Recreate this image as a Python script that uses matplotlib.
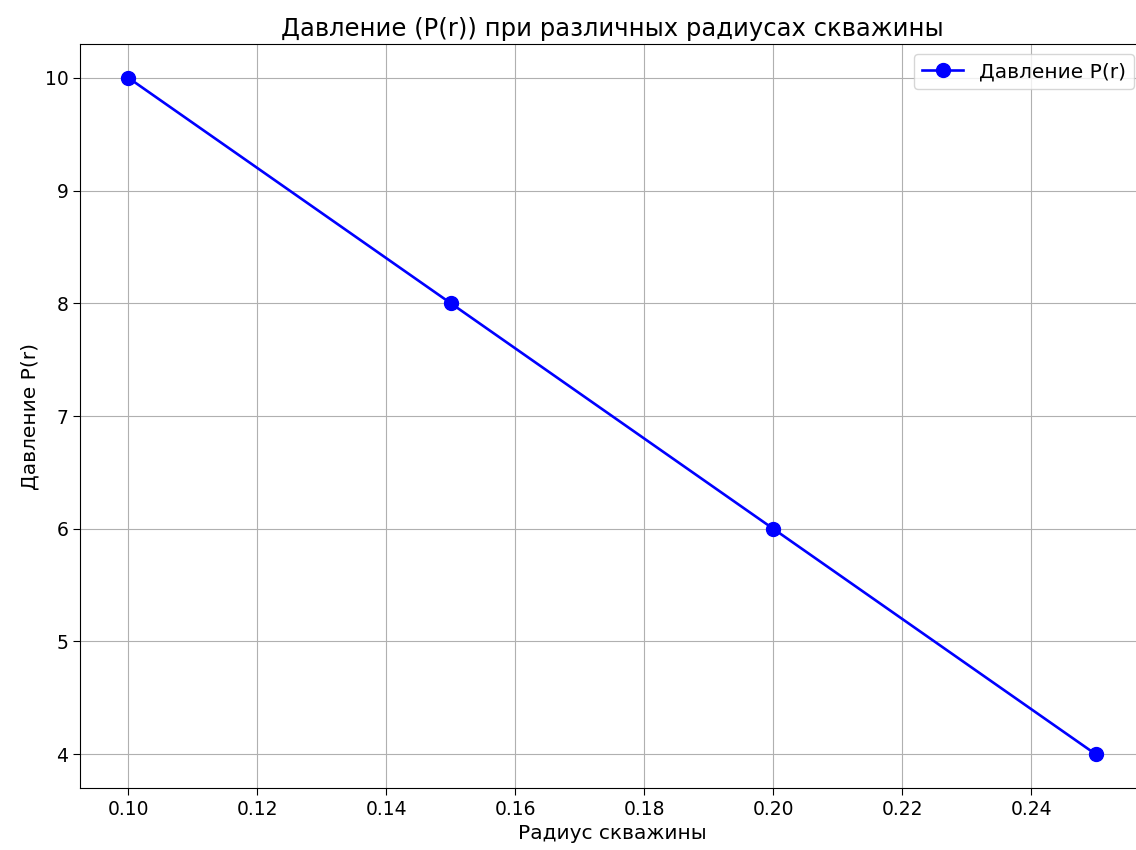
import matplotlib
matplotlib.use("Agg")
import matplotlib.pyplot as plt

radius = [0.10, 0.15, 0.20, 0.25]
pressure = [10, 8, 6, 4]

fig = plt.figure(figsize=(11.36, 8.5), dpi=100)
# axes run a little past the right edge, as in the reference (cropped picture)
ax = fig.add_axes([80 / 1136, 62 / 850, 1064 / 1136, 744 / 850])

ax.plot(radius, pressure, 'o-', color='blue', markersize=10, linewidth=1.9, label='Давление P(r)')
ax.set_xlabel('Радиус скважины', fontsize=14.5)
ax.set_ylabel('Давление P(r)', fontsize=14.5)
ax.set_title('Давление (P(r)) при различных радиусах скважины', fontsize=17.5)
ax.tick_params(labelsize=13.5, length=4.8)
ax.set_xlim(0.0925, 0.2575)
ax.set_ylim(3.7, 10.3)
ax.grid(True)
ax.legend(loc='upper right', fontsize=14.5)

plt.savefig('out.png', dpi=100)
